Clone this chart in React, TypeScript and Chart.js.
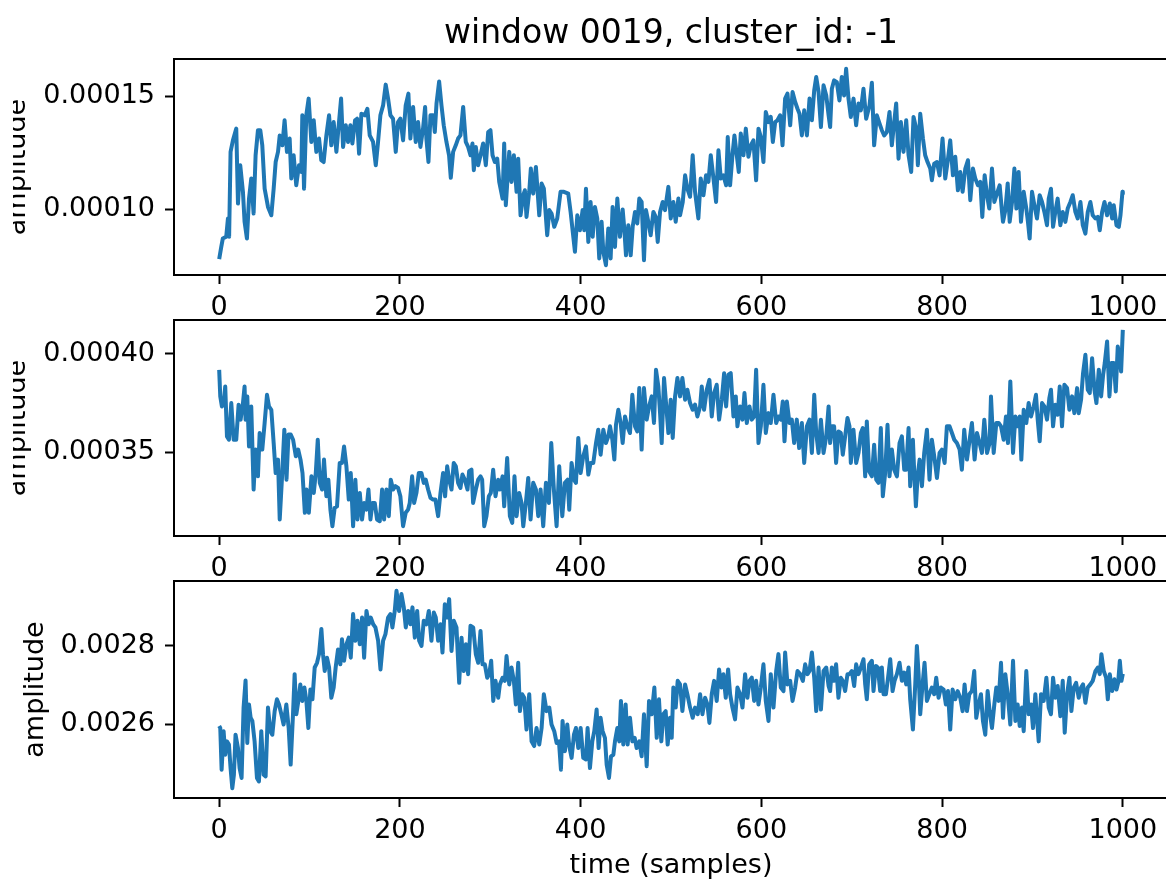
import { useEffect, useRef } from "react";
import { Chart, registerables } from "chart.js";

Chart.register(...registerables);

const TITLE = "window 0019, cluster_id: -1";
const X_LABEL = "time (samples)";
const Y_LABEL = "amplitude";

const xTicks = [0, 200, 400, 600, 800, 1000];
const xTickLabels = ["0", "200", "400", "600", "800", "1000"];

const topYTicks = [0.0001, 0.00015];
const topYTickLabels = ["0.00010", "0.00015"];
const midYTicks = [0.00035, 0.0004];
const midYTickLabels = ["0.00035", "0.00040"];
const botYTicks = [0.0026, 0.0028];
const botYTickLabels = ["0.0026", "0.0028"];

// [sample, amplitude]
const topSeries: [number, number][] = [
  [0, 7.79e-5], [2.3, 8.33e-5], [4, 8.7e-5], [7.8, 8.78e-5], [9.7, 9.59e-5], [11, 8.78e-5], [12.6, 12.54e-5], [15.2, 13.05e-5], [18.9, 13.57e-5], [20.8, 10.25e-5],
  [23.3, 11.95e-5], [26.3, 10.77e-5], [28.1, 9.44e-5], [30.7, 8.7e-5], [33, 10.47e-5], [35.5, 11.36e-5], [38.1, 9.81e-5], [40.3, 12.39e-5], [42.9, 13.5e-5], [45.5, 13.5e-5],
  [47.7, 12.83e-5], [50.3, 10.91e-5], [54, 10.1e-5], [57.7, 9.73e-5], [60.3, 10.91e-5], [62.5, 12.09e-5], [65.1, 12.54e-5], [67, 13.27e-5], [69.9, 12.83e-5], [72.4, 13.94e-5],
  [75, 12.54e-5], [78, 13.13e-5], [79.8, 11.36e-5], [82.4, 12.39e-5], [85.3, 11.06e-5], [88.3, 11.95e-5], [90.9, 11.65e-5], [92, 14.16e-5], [93.9, 10.91e-5], [96.4, 14.16e-5],
  [99, 14.9e-5], [102, 12.98e-5], [104.6, 13.94e-5], [107.5, 12.54e-5], [110.5, 13.13e-5], [113, 12.17e-5], [115.6, 12.09e-5], [118.6, 13.27e-5], [121.6, 14.16e-5], [124.1, 12.83e-5],
  [126.7, 13.86e-5], [129.7, 12.54e-5], [132.6, 13.86e-5], [134.9, 14.9e-5], [137.1, 12.76e-5], [140.1, 13.72e-5], [142.6, 12.98e-5], [145.2, 13.72e-5], [147.4, 12.91e-5], [150.4, 13.94e-5],
  [152.6, 14.01e-5], [154.8, 12.46e-5], [157.4, 14.23e-5], [161.1, 14.16e-5], [164, 14.45e-5], [166.6, 13.27e-5], [170.3, 12.98e-5], [173.3, 11.95e-5], [175.8, 12.98e-5], [178.4, 14.16e-5],
  [181.4, 14.6e-5], [184.3, 15.52e-5], [186.9, 14.9e-5], [189.5, 14.16e-5], [192.4, 14.01e-5], [195.4, 12.54e-5], [197.9, 13.86e-5], [200.5, 14.01e-5], [203.5, 13.05e-5], [206.4, 14.6e-5],
  [209.4, 15.12e-5], [211.6, 13.13e-5], [214.6, 14.53e-5], [217.5, 12.98e-5], [220.1, 13.86e-5], [222.7, 12.76e-5], [225.6, 13.57e-5], [227.9, 14.53e-5], [229.3, 13.13e-5], [231.6, 12.09e-5],
  [233.8, 14.16e-5], [236.8, 14.16e-5], [238.6, 13.42e-5], [240.5, 14.68e-5], [243.4, 15.66e-5], [246, 14.6e-5], [248.5, 13.72e-5], [251.5, 12.98e-5], [254.4, 12.39e-5], [256.3, 11.39e-5],
  [258.9, 12.54e-5], [261.8, 12.83e-5], [264.4, 13.13e-5], [267, 13.27e-5], [270, 14.53e-5], [272.9, 12.98e-5], [275.5, 12.76e-5], [278.1, 12.39e-5], [280.3, 12.91e-5], [281.8, 11.73e-5],
  [284, 12.76e-5], [286.6, 11.95e-5], [289.2, 12.39e-5], [292.1, 12.91e-5], [295.1, 11.95e-5], [297.7, 13.42e-5], [300.2, 13.5e-5], [302.5, 12.39e-5], [305.1, 12.09e-5], [307.7, 12.24e-5],
  [309.9, 11.21e-5], [313.6, 10.47e-5], [315.4, 12.91e-5], [317.2, 10.18e-5], [321, 12.54e-5], [323.5, 11.21e-5], [326.1, 12.39e-5], [329.1, 10.77e-5], [330.9, 12.24e-5], [333.5, 9.73e-5],
  [336.5, 10.62e-5], [338.3, 10.84e-5], [340.1, 9.66e-5], [343.1, 10.77e-5], [344.9, 11.8e-5], [347.5, 10.69e-5], [350.5, 11.87e-5], [354.2, 9.73e-5], [356.8, 11.14e-5], [359.3, 10.91e-5],
  [363, 8.85e-5], [365.3, 9.96e-5], [367.8, 9.81e-5], [370.8, 9.22e-5], [374.1, 9.59e-5], [377.8, 10.77e-5], [381.5, 10.77e-5], [386.3, 10.69e-5], [388.9, 9.88e-5], [391.1, 9.07e-5],
  [393.7, 8.11e-5], [396.3, 9.73e-5], [399.2, 9.07e-5], [402.2, 9.96e-5], [404, 9.07e-5], [405.9, 10.91e-5], [408.5, 8.55e-5], [411, 10.32e-5], [413.3, 8.78e-5], [415.8, 10.1e-5],
  [418.4, 9.59e-5], [420.6, 7.82e-5], [423.2, 9.44e-5], [425.1, 8.11e-5], [428, 7.52e-5], [430.6, 9.14e-5], [433.2, 7.82e-5], [435.4, 10.1e-5], [438, 8.33e-5], [440.6, 10.47e-5],
  [443.5, 8.78e-5], [446.5, 9.99e-5], [448.3, 9.14e-5], [450.2, 7.96e-5], [452.8, 9.29e-5], [455.4, 7.96e-5], [457.6, 9.22e-5], [460.2, 9.88e-5], [462.7, 9.37e-5], [464.9, 10.47e-5],
  [467.5, 10.32e-5], [470.1, 7.74e-5], [472.3, 9.96e-5], [474.9, 9.44e-5], [477.5, 8.85e-5], [480.5, 9.88e-5], [483.1, 9.66e-5], [485.3, 8.55e-5], [487.9, 9.88e-5], [490.8, 10.32e-5],
  [493.4, 9.96e-5], [497.1, 10.99e-5], [499.7, 9.59e-5], [502.6, 10.32e-5], [505.2, 9.44e-5], [508.2, 10.47e-5], [510, 9.73e-5], [513, 10.32e-5], [515.6, 11.5e-5], [518.1, 10.91e-5],
  [521.1, 10.55e-5], [524, 12.39e-5], [526.6, 10.77e-5], [530.3, 9.59e-5], [532.9, 11.36e-5], [535.9, 10.62e-5], [538.8, 11.5e-5], [541.4, 11.21e-5], [544, 12.39e-5], [547, 11.36e-5],
  [549.9, 10.32e-5], [552.5, 12.61e-5], [555.1, 11.36e-5], [558, 11.5e-5], [561, 11.06e-5], [562.8, 13.2e-5], [565.4, 11.06e-5], [568, 12.39e-5], [570.2, 13.27e-5], [572.8, 12.39e-5],
  [575, 11.65e-5], [577.2, 13.35e-5], [580.2, 12.39e-5], [582.8, 13.57e-5], [585.7, 12.32e-5], [588.3, 12.83e-5], [591.2, 13.05e-5], [594.2, 11.28e-5], [596.8, 13.57e-5], [599.4, 13.2e-5],
  [602.3, 12.09e-5], [604.9, 14.31e-5], [607.9, 13.86e-5], [610.4, 14.09e-5], [612.7, 12.98e-5], [615.3, 13.86e-5], [617.8, 13.94e-5], [620.8, 14.16e-5], [623.4, 12.83e-5], [626.3, 14.9e-5],
  [628.9, 15.12e-5], [631.9, 13.72e-5], [634.5, 15.19e-5], [637.4, 14.75e-5], [640, 14.45e-5], [642.2, 14.23e-5], [644.8, 13.27e-5], [647.4, 14.38e-5], [650.4, 13.27e-5], [653.3, 14.9e-5],
  [655.9, 13.94e-5], [658.5, 15.27e-5], [660.7, 15.86e-5], [663.3, 15.19e-5], [665.9, 13.64e-5], [668.8, 15.49e-5], [671.8, 15.04e-5], [674.4, 14.16e-5], [676.1, 13.64e-5], [678, 15.34e-5],
  [680.5, 15.71e-5], [683.5, 15.63e-5], [686.4, 14.82e-5], [689, 15.86e-5], [691.6, 15.04e-5], [693.8, 16.22e-5], [696.4, 14.9e-5], [699, 14.09e-5], [702, 14.9e-5], [704.9, 13.72e-5],
  [707.5, 14.68e-5], [710.1, 14.38e-5], [713, 15.34e-5], [716, 14.01e-5], [719.7, 14.6e-5], [722.3, 15.6e-5], [724.8, 12.83e-5], [727.8, 14.16e-5], [730.8, 13.79e-5], [733.3, 13.5e-5],
  [735.9, 13.27e-5], [738.9, 13.42e-5], [741.8, 14.31e-5], [744.4, 12.83e-5], [747, 13.86e-5], [749.2, 14.68e-5], [751.8, 12.24e-5], [754.4, 13.86e-5], [757.3, 12.54e-5], [760.3, 13.94e-5],
  [762.9, 12.39e-5], [765.8, 11.65e-5], [768.4, 14.09e-5], [771.4, 13.57e-5], [773.2, 11.95e-5], [775.8, 14.23e-5], [778.8, 13.13e-5], [781.3, 12.39e-5], [783.9, 12.09e-5], [786.9, 11.8e-5],
  [788.7, 11.28e-5], [791.3, 12.02e-5], [794.3, 12.09e-5], [797.2, 11.5e-5], [800.5, 13.13e-5], [803.5, 11.36e-5], [806.1, 12.09e-5], [809, 13.05e-5], [812, 11.5e-5], [814.6, 12.32e-5],
  [817.5, 10.84e-5], [820.1, 11.65e-5], [822.7, 10.77e-5], [825.7, 11.8e-5], [828.6, 12.17e-5], [831.2, 10.4e-5], [834.1, 11.8e-5], [836.7, 11.36e-5], [839.7, 11.06e-5], [842.3, 11.21e-5],
  [844.5, 9.66e-5], [847.1, 11.5e-5], [849.7, 10.62e-5], [852.2, 10.03e-5], [855.2, 11.8e-5], [857.8, 10.32e-5], [860.7, 10.69e-5], [863.7, 11.06e-5], [866.3, 9.88e-5], [867.4, 9.44e-5],
  [870, 9.96e-5], [872.6, 11.14e-5], [874.8, 9.44e-5], [877.4, 10.32e-5], [880, 11.8e-5], [882.2, 10.03e-5], [884.7, 11.65e-5], [887.3, 9.44e-5], [890.3, 10.77e-5], [893.2, 10.03e-5],
  [895, 9.44e-5], [896.9, 8.7e-5], [899.5, 10.77e-5], [902.1, 10.18e-5], [905, 9.59e-5], [908, 10.62e-5], [910.6, 10.32e-5], [913.2, 9.88e-5], [916.1, 9.29e-5], [918, 10.47e-5],
  [920.5, 10.91e-5], [922.8, 9.22e-5], [925.3, 9.88e-5], [927.9, 10.47e-5], [930.9, 9.29e-5], [933.5, 9.88e-5], [936.4, 9.44e-5], [939, 10.03e-5], [942, 10.32e-5], [944.6, 10.62e-5],
  [947.5, 9.88e-5], [950.1, 9.59e-5], [953.1, 10.32e-5], [955.7, 9.29e-5], [958.6, 8.92e-5], [961.2, 9.88e-5], [964.1, 10.32e-5], [966.7, 9.73e-5], [969.7, 9.59e-5], [972.3, 9.66e-5],
  [974.5, 9.07e-5], [977.1, 9.88e-5], [979.7, 10.32e-5], [982.6, 9.73e-5], [985.6, 10.25e-5], [988.2, 9.59e-5], [990, 10.18e-5], [993, 9.29e-5], [995.6, 9.22e-5], [997.4, 9.73e-5],
  [999.6, 10.77e-5], [1000, 10.69e-5],
];

const midSeries: [number, number][] = [
  [0, 3.919e-4], [1.2, 3.784e-4], [3, 3.733e-4], [4.9, 3.742e-4], [6.7, 3.834e-4], [8.6, 3.581e-4], [10.8, 3.564e-4], [13.4, 3.75e-4], [16, 3.564e-4], [18.9, 3.564e-4],
  [21.5, 3.742e-4], [23.7, 3.666e-4], [26.3, 3.75e-4], [28.1, 3.834e-4], [29.2, 3.666e-4], [31.1, 3.784e-4], [33, 3.53e-4], [35.5, 3.733e-4], [38.1, 3.311e-4], [40.3, 3.514e-4],
  [42.9, 3.378e-4], [44.8, 3.598e-4], [47.7, 3.514e-4], [50.3, 3.649e-4], [52.9, 3.792e-4], [55.1, 3.733e-4], [57.7, 3.716e-4], [60.3, 3.547e-4], [62.5, 3.395e-4], [65.1, 3.463e-4],
  [67, 3.159e-4], [69.6, 3.378e-4], [72.1, 3.615e-4], [74.5, 3.361e-4], [76.7, 3.59e-4], [79.2, 3.59e-4], [81.8, 3.564e-4], [84.8, 3.48e-4], [87.4, 3.514e-4], [90, 3.463e-4],
  [92.2, 3.395e-4], [94.8, 3.193e-4], [96.6, 3.311e-4], [99.2, 3.193e-4], [102.1, 3.378e-4], [104.7, 3.294e-4], [106.9, 3.395e-4], [109.1, 3.564e-4], [111.3, 3.345e-4], [113.9, 3.311e-4],
  [116, 3.463e-4], [118.6, 3.277e-4], [120.8, 3.361e-4], [123.1, 3.209e-4], [125.3, 3.125e-4], [127.8, 3.218e-4], [130.4, 3.226e-4], [133.4, 3.446e-4], [135.9, 3.446e-4], [138.2, 3.53e-4],
  [140.8, 3.429e-4], [143.4, 3.26e-4], [145.6, 3.395e-4], [148.2, 3.125e-4], [150.7, 3.361e-4], [153, 3.159e-4], [155.6, 3.294e-4], [158.1, 3.159e-4], [160.4, 3.243e-4], [163, 3.209e-4],
  [165.2, 3.311e-4], [167.4, 3.159e-4], [169.6, 3.243e-4], [172.2, 3.243e-4], [174.7, 3.159e-4], [177.7, 3.15e-4], [180.3, 3.311e-4], [182.5, 3.159e-4], [185.1, 3.311e-4], [187.7, 3.176e-4],
  [189.9, 3.361e-4], [192.4, 3.311e-4], [195, 3.328e-4], [198, 3.319e-4], [200.5, 3.277e-4], [203.5, 3.125e-4], [206.4, 3.193e-4], [209, 3.209e-4], [210.9, 3.243e-4], [213.5, 3.378e-4],
  [215.7, 3.243e-4], [218.3, 3.294e-4], [220.9, 3.395e-4], [223.8, 3.395e-4], [226.4, 3.345e-4], [228.6, 3.361e-4], [231.2, 3.311e-4], [233.8, 3.269e-4], [236.7, 3.26e-4], [239.3, 3.26e-4],
  [242.3, 3.176e-4], [244.9, 3.294e-4], [247.8, 3.395e-4], [250, 3.277e-4], [252.3, 3.429e-4], [254.5, 3.361e-4], [257.1, 3.311e-4], [259.6, 3.446e-4], [261.9, 3.429e-4], [264.4, 3.345e-4],
  [267, 3.319e-4], [269.2, 3.387e-4], [271.8, 3.361e-4], [274.8, 3.311e-4], [276.6, 3.404e-4], [279.2, 3.412e-4], [281, 3.243e-4], [284, 3.311e-4], [286.6, 3.361e-4], [289.2, 3.378e-4],
  [291, 3.361e-4], [293.3, 3.125e-4], [295.8, 3.176e-4], [298.4, 3.277e-4], [300.6, 3.294e-4], [303.2, 3.412e-4], [305.8, 3.277e-4], [308.7, 3.361e-4], [310.6, 3.311e-4], [313.6, 3.378e-4],
  [315.4, 3.226e-4], [318.7, 3.471e-4], [321.7, 3.176e-4], [324.3, 3.142e-4], [326.8, 3.378e-4], [329.1, 3.176e-4], [332, 3.294e-4], [334.6, 3.243e-4], [336.5, 3.125e-4], [339.4, 3.243e-4],
  [342, 3.37e-4], [344.6, 3.159e-4], [347.5, 3.345e-4], [350.5, 3.311e-4], [353.1, 3.176e-4], [355.7, 3.311e-4], [358.6, 3.125e-4], [361.6, 3.345e-4], [364.9, 3.243e-4], [367.5, 3.547e-4],
  [370.4, 3.311e-4], [373.4, 3.125e-4], [376.3, 3.429e-4], [379.7, 3.176e-4], [382.6, 3.345e-4], [385.6, 3.361e-4], [387.4, 3.209e-4], [390, 3.446e-4], [392.6, 3.361e-4], [394.8, 3.345e-4],
  [397.4, 3.573e-4], [400, 3.395e-4], [402.9, 3.48e-4], [405.9, 3.53e-4], [408.5, 3.387e-4], [411, 3.446e-4], [414, 3.446e-4], [417, 3.547e-4], [419.5, 3.615e-4], [422.1, 3.488e-4],
  [425.1, 3.615e-4], [428, 3.547e-4], [430.6, 3.581e-4], [432.5, 3.632e-4], [435.1, 3.564e-4], [437.3, 3.463e-4], [439.1, 3.64e-4], [441.7, 3.716e-4], [444.3, 3.649e-4], [446.5, 3.547e-4],
  [449.1, 3.682e-4], [451.7, 3.632e-4], [454.6, 3.598e-4], [457.2, 3.792e-4], [460.2, 3.632e-4], [462.7, 3.606e-4], [464.9, 3.826e-4], [467.5, 3.514e-4], [470.1, 3.826e-4], [473.1, 3.666e-4],
  [475.7, 3.733e-4], [478.6, 3.784e-4], [481.2, 3.649e-4], [483.4, 3.919e-4], [486, 3.834e-4], [487.9, 3.699e-4], [489.7, 3.547e-4], [492.3, 3.877e-4], [494.5, 3.75e-4], [497.1, 3.598e-4],
  [499.7, 3.767e-4], [501.9, 3.573e-4], [504.5, 3.784e-4], [507.1, 3.877e-4], [510, 3.784e-4], [512.6, 3.877e-4], [515.6, 3.767e-4], [518.1, 3.818e-4], [521.1, 3.75e-4], [524, 3.716e-4],
  [526.6, 3.742e-4], [529.2, 3.682e-4], [532.2, 3.733e-4], [534, 3.834e-4], [536.6, 3.716e-4], [539.6, 3.818e-4], [542.5, 3.868e-4], [545.1, 3.682e-4], [547.7, 3.801e-4], [550.6, 3.843e-4],
  [553.2, 3.666e-4], [556.2, 3.767e-4], [558.8, 3.902e-4], [561, 3.733e-4], [563.6, 3.894e-4], [566.1, 3.902e-4], [569.1, 3.682e-4], [571.7, 3.784e-4], [573.5, 3.632e-4], [576.5, 3.733e-4],
  [579.1, 3.666e-4], [581.3, 3.801e-4], [583.9, 3.649e-4], [586.8, 3.733e-4], [589.4, 3.666e-4], [592, 3.682e-4], [594.2, 3.919e-4], [596.8, 3.547e-4], [599.4, 3.632e-4], [602.3, 3.843e-4],
  [604.9, 3.598e-4], [607.9, 3.699e-4], [610.4, 3.649e-4], [613.4, 3.792e-4], [616.4, 3.649e-4], [618.9, 3.682e-4], [621.5, 3.666e-4], [623.7, 3.758e-4], [625.6, 3.556e-4], [628.2, 3.758e-4],
  [631.1, 3.649e-4], [633.7, 3.666e-4], [636.3, 3.547e-4], [639.2, 3.666e-4], [641.8, 3.522e-4], [644.8, 3.649e-4], [647.4, 3.446e-4], [650.4, 3.632e-4], [653.3, 3.666e-4], [655.9, 3.497e-4],
  [658.5, 3.792e-4], [660.7, 3.598e-4], [663.3, 3.497e-4], [665.9, 3.666e-4], [668.8, 3.497e-4], [671.8, 3.581e-4], [674.4, 3.733e-4], [676.1, 3.547e-4], [678, 3.632e-4], [680.5, 3.632e-4],
  [682.7, 3.446e-4], [685.3, 3.606e-4], [687.9, 3.598e-4], [690.1, 3.488e-4], [692.7, 3.581e-4], [695.3, 3.674e-4], [697.5, 3.632e-4], [699, 3.446e-4], [701.9, 3.615e-4], [704.9, 3.446e-4],
  [707.5, 3.497e-4], [710.1, 3.598e-4], [712.3, 3.623e-4], [714.9, 3.378e-4], [716.7, 3.657e-4], [719.3, 3.404e-4], [722.3, 3.378e-4], [724.8, 3.539e-4], [727.1, 3.361e-4], [729.6, 3.345e-4],
  [732.2, 3.623e-4], [734.4, 3.277e-4], [737, 3.395e-4], [739.6, 3.64e-4], [741.8, 3.378e-4], [744.4, 3.514e-4], [747, 3.412e-4], [750, 3.378e-4], [752.9, 3.547e-4], [755.5, 3.581e-4],
  [758.1, 3.412e-4], [760.3, 3.412e-4], [762.9, 3.623e-4], [764.7, 3.328e-4], [767.7, 3.564e-4], [769.2, 3.395e-4], [771, 3.226e-4], [772.9, 3.378e-4], [775.1, 3.463e-4], [777.7, 3.328e-4],
  [780.2, 3.497e-4], [783.2, 3.615e-4], [786.1, 3.361e-4], [788.7, 3.564e-4], [791.3, 3.48e-4], [794.3, 3.37e-4], [797.2, 3.497e-4], [799.8, 3.514e-4], [802.8, 3.446e-4], [805.3, 3.632e-4],
  [808.3, 3.632e-4], [810.9, 3.598e-4], [813.5, 3.564e-4], [816.4, 3.547e-4], [819.4, 3.514e-4], [821.9, 3.412e-4], [824.5, 3.615e-4], [827.5, 3.463e-4], [830.5, 3.564e-4], [833, 3.649e-4],
  [836, 3.463e-4], [838.6, 3.598e-4], [841.5, 3.547e-4], [844.1, 3.497e-4], [846.7, 3.666e-4], [849.7, 3.497e-4], [852.6, 3.547e-4], [854.1, 3.784e-4], [857.1, 3.497e-4], [860, 3.649e-4],
  [862.6, 3.649e-4], [865.2, 3.632e-4], [868.1, 3.564e-4], [870.7, 3.682e-4], [872.9, 3.547e-4], [875.5, 3.86e-4], [878.5, 3.497e-4], [881.1, 3.682e-4], [883.6, 3.632e-4], [885.9, 3.682e-4],
  [887.7, 3.463e-4], [890.3, 3.716e-4], [893.2, 3.649e-4], [895.8, 3.75e-4], [898.4, 3.682e-4], [901.4, 3.733e-4], [903.9, 3.792e-4], [905.8, 3.666e-4], [908, 3.556e-4], [910.6, 3.75e-4],
  [913.2, 3.733e-4], [916.1, 3.666e-4], [918.7, 3.775e-4], [920.5, 3.818e-4], [922.8, 3.632e-4], [925.3, 3.742e-4], [927.9, 3.691e-4], [930.2, 3.834e-4], [932.7, 3.632e-4], [935.3, 3.843e-4],
  [938.3, 3.826e-4], [940.9, 3.716e-4], [943.8, 3.784e-4], [946.4, 3.699e-4], [949.4, 3.826e-4], [951.2, 3.699e-4], [953.8, 3.767e-4], [956, 3.902e-4], [958.6, 3.995e-4], [961.2, 3.818e-4],
  [963.4, 3.801e-4], [966, 3.978e-4], [968.6, 3.818e-4], [970.8, 3.75e-4], [973.4, 3.919e-4], [976, 3.784e-4], [978.2, 3.894e-4], [980, 3.953e-4], [982.6, 4.063e-4], [985.2, 3.784e-4],
  [987.4, 3.953e-4], [990, 3.953e-4], [992.2, 3.809e-4], [994.4, 4.037e-4], [996.3, 3.986e-4], [998.1, 3.91e-4], [1000, 4.122e-4],
];

const botSeries: [number, number][] = [
  [0, 2.596e-3], [1.2, 2.591e-3], [2.7, 2.485e-3], [4.9, 2.583e-3], [6.7, 2.523e-3], [8.6, 2.557e-3], [10.8, 2.549e-3], [12.6, 2.489e-3], [14.5, 2.438e-3], [16.3, 2.472e-3],
  [18.1, 2.574e-3], [20.8, 2.54e-3], [22.6, 2.489e-3], [24.8, 2.464e-3], [27, 2.643e-3], [29.2, 2.712e-3], [31.1, 2.553e-3], [33, 2.651e-3], [34.8, 2.617e-3], [36.7, 2.609e-3],
  [39.2, 2.557e-3], [41.8, 2.464e-3], [44, 2.455e-3], [46.6, 2.583e-3], [49.2, 2.472e-3], [51.4, 2.468e-3], [54, 2.643e-3], [56.6, 2.583e-3], [58.8, 2.574e-3], [61.4, 2.634e-3],
  [63.9, 2.664e-3], [66.2, 2.651e-3], [68.8, 2.626e-3], [71.3, 2.6e-3], [74.3, 2.651e-3], [76.9, 2.591e-3], [79.1, 2.498e-3], [81.7, 2.626e-3], [83.5, 2.728e-3], [85.4, 2.626e-3],
  [87.6, 2.66e-3], [89.8, 2.702e-3], [92, 2.66e-3], [94.3, 2.694e-3], [96.5, 2.66e-3], [98.7, 2.591e-3], [100.9, 2.689e-3], [103.2, 2.664e-3], [105.7, 2.745e-3], [108.3, 2.757e-3],
  [110.5, 2.779e-3], [113.1, 2.843e-3], [114.9, 2.779e-3], [116.8, 2.736e-3], [119.3, 2.77e-3], [121.6, 2.745e-3], [124.1, 2.668e-3], [126.7, 2.694e-3], [128.9, 2.745e-3], [131.5, 2.791e-3],
  [134.1, 2.753e-3], [135.9, 2.817e-3], [138.2, 2.762e-3], [140.8, 2.804e-3], [143.4, 2.821e-3], [145.6, 2.77e-3], [148.2, 2.881e-3], [150.7, 2.813e-3], [153, 2.864e-3], [155.6, 2.804e-3],
  [158.1, 2.872e-3], [160.4, 2.77e-3], [163, 2.889e-3], [165.5, 2.855e-3], [167.8, 2.872e-3], [170.4, 2.855e-3], [172.9, 2.847e-3], [175.9, 2.813e-3], [178.5, 2.74e-3], [181.4, 2.813e-3],
  [184, 2.83e-3], [186.9, 2.872e-3], [189.5, 2.881e-3], [191.7, 2.847e-3], [194.3, 2.889e-3], [196.2, 2.94e-3], [199.1, 2.889e-3], [201.7, 2.932e-3], [204.3, 2.898e-3], [206.5, 2.847e-3],
  [209.1, 2.889e-3], [211.6, 2.855e-3], [213.9, 2.898e-3], [216.5, 2.821e-3], [219.1, 2.889e-3], [221.3, 2.813e-3], [223.9, 2.8e-3], [226.4, 2.864e-3], [229.4, 2.855e-3], [232, 2.889e-3],
  [234.9, 2.813e-3], [237.5, 2.885e-3], [239.7, 2.872e-3], [242.3, 2.813e-3], [244.9, 2.855e-3], [247.1, 2.783e-3], [249.7, 2.906e-3], [252.3, 2.872e-3], [254.5, 2.919e-3], [257.1, 2.787e-3],
  [259.6, 2.864e-3], [262.6, 2.847e-3], [265.6, 2.706e-3], [268.2, 2.821e-3], [270.7, 2.736e-3], [273, 2.804e-3], [275.5, 2.728e-3], [278.1, 2.851e-3], [281.1, 2.847e-3], [284, 2.779e-3],
  [286.6, 2.757e-3], [289.2, 2.838e-3], [291.4, 2.753e-3], [294, 2.753e-3], [296.6, 2.719e-3], [298.8, 2.728e-3], [301, 2.762e-3], [303.3, 2.66e-3], [305.8, 2.711e-3], [308.8, 2.668e-3],
  [310.6, 2.702e-3], [313.6, 2.719e-3], [316.1, 2.711e-3], [318, 2.774e-3], [321, 2.702e-3], [323.5, 2.745e-3], [326.1, 2.711e-3], [328.3, 2.651e-3], [330.9, 2.757e-3], [332.8, 2.634e-3],
  [335.3, 2.677e-3], [337.6, 2.668e-3], [340.1, 2.587e-3], [343.1, 2.677e-3], [345.7, 2.557e-3], [348.6, 2.545e-3], [351.2, 2.591e-3], [354.2, 2.549e-3], [356.8, 2.591e-3], [359.3, 2.677e-3],
  [362.3, 2.634e-3], [365.3, 2.643e-3], [367.8, 2.6e-3], [370.8, 2.583e-3], [373.4, 2.553e-3], [376, 2.557e-3], [378.2, 2.485e-3], [380, 2.609e-3], [382.6, 2.532e-3], [385.2, 2.6e-3],
  [387.4, 2.545e-3], [390, 2.515e-3], [392.6, 2.574e-3], [394.8, 2.591e-3], [397.4, 2.54e-3], [400, 2.591e-3], [402.9, 2.515e-3], [405.9, 2.511e-3], [407.7, 2.591e-3], [410.3, 2.489e-3],
  [412.9, 2.557e-3], [415.1, 2.583e-3], [417.7, 2.638e-3], [419.9, 2.54e-3], [422.1, 2.617e-3], [424.3, 2.583e-3], [426.9, 2.566e-3], [428.8, 2.498e-3], [431.4, 2.464e-3], [433.6, 2.519e-3],
  [436.2, 2.523e-3], [438, 2.557e-3], [440.6, 2.591e-3], [442.8, 2.557e-3], [444.6, 2.66e-3], [447.2, 2.549e-3], [449.8, 2.651e-3], [452, 2.549e-3], [454.6, 2.617e-3], [457.2, 2.557e-3],
  [459.8, 2.566e-3], [462, 2.54e-3], [465, 2.557e-3], [467.5, 2.519e-3], [470.1, 2.626e-3], [473.1, 2.494e-3], [475.7, 2.66e-3], [478.6, 2.626e-3], [481.6, 2.694e-3], [484.2, 2.566e-3],
  [486.7, 2.664e-3], [489.3, 2.557e-3], [491.5, 2.626e-3], [494.1, 2.634e-3], [496.3, 2.549e-3], [498.9, 2.617e-3], [500.8, 2.566e-3], [502.6, 2.694e-3], [505.2, 2.643e-3], [507.4, 2.711e-3],
  [510, 2.702e-3], [512.6, 2.634e-3], [515.6, 2.702e-3], [518.1, 2.677e-3], [521.1, 2.643e-3], [524, 2.617e-3], [526.6, 2.643e-3], [529.6, 2.626e-3], [532.2, 2.677e-3], [534.8, 2.626e-3],
  [537.7, 2.668e-3], [540.3, 2.651e-3], [542.5, 2.604e-3], [545.1, 2.677e-3], [547.7, 2.711e-3], [550.6, 2.66e-3], [553.2, 2.74e-3], [555.8, 2.694e-3], [558, 2.728e-3], [560.6, 2.668e-3],
  [563.2, 2.74e-3], [565.4, 2.677e-3], [568, 2.643e-3], [570.9, 2.613e-3], [573.5, 2.694e-3], [576.5, 2.677e-3], [579.1, 2.643e-3], [582, 2.728e-3], [584.6, 2.668e-3], [586.8, 2.711e-3],
  [589.4, 2.719e-3], [592, 2.66e-3], [594.2, 2.711e-3], [596.8, 2.651e-3], [599.4, 2.694e-3], [602.3, 2.753e-3], [604.9, 2.66e-3], [607.9, 2.609e-3], [610.4, 2.728e-3], [613.4, 2.643e-3],
  [616.4, 2.736e-3], [618.9, 2.779e-3], [621.5, 2.694e-3], [624.5, 2.685e-3], [626.3, 2.783e-3], [628.9, 2.702e-3], [631.9, 2.711e-3], [634.5, 2.66e-3], [637.4, 2.694e-3], [640, 2.736e-3],
  [643, 2.728e-3], [645.9, 2.711e-3], [648.5, 2.753e-3], [651.1, 2.728e-3], [653.3, 2.736e-3], [655.9, 2.783e-3], [658.5, 2.719e-3], [660.7, 2.634e-3], [663.3, 2.745e-3], [665.9, 2.638e-3],
  [668.8, 2.736e-3], [671.8, 2.745e-3], [674.4, 2.698e-3], [676.1, 2.685e-3], [678, 2.745e-3], [680.5, 2.711e-3], [682.7, 2.753e-3], [685.3, 2.668e-3], [687.9, 2.719e-3], [690.1, 2.711e-3],
  [692.7, 2.685e-3], [695.3, 2.728e-3], [697.5, 2.728e-3], [700.1, 2.736e-3], [702.7, 2.698e-3], [704.9, 2.753e-3], [707.5, 2.728e-3], [710.1, 2.745e-3], [713, 2.766e-3], [714.9, 2.702e-3],
  [716.7, 2.664e-3], [719.3, 2.753e-3], [722.3, 2.762e-3], [724.1, 2.685e-3], [726.7, 2.749e-3], [728.9, 2.745e-3], [731.5, 2.685e-3], [733.3, 2.745e-3], [735.2, 2.677e-3], [737.8, 2.677e-3],
  [740, 2.715e-3], [742.6, 2.766e-3], [745.2, 2.685e-3], [747.4, 2.711e-3], [750, 2.728e-3], [752.9, 2.757e-3], [755.5, 2.711e-3], [758.1, 2.732e-3], [760.3, 2.702e-3], [762.9, 2.745e-3],
  [764.7, 2.664e-3], [767.7, 2.587e-3], [770.3, 2.702e-3], [772.1, 2.8e-3], [774, 2.728e-3], [775.8, 2.626e-3], [778.4, 2.702e-3], [780.6, 2.757e-3], [783.2, 2.66e-3], [785.8, 2.677e-3],
  [788.7, 2.694e-3], [791.3, 2.677e-3], [793.5, 2.719e-3], [796.1, 2.668e-3], [798.7, 2.694e-3], [801.7, 2.689e-3], [804.2, 2.651e-3], [806.5, 2.685e-3], [809, 2.587e-3], [811.6, 2.689e-3],
  [814.6, 2.664e-3], [817.2, 2.685e-3], [820.1, 2.668e-3], [822.7, 2.634e-3], [824.9, 2.702e-3], [827.5, 2.634e-3], [830.1, 2.677e-3], [833, 2.685e-3], [835.6, 2.736e-3], [837.8, 2.617e-3],
  [840.4, 2.651e-3], [843, 2.677e-3], [845.2, 2.609e-3], [847.8, 2.574e-3], [850.4, 2.685e-3], [852.6, 2.634e-3], [855.2, 2.591e-3], [857.8, 2.651e-3], [860, 2.694e-3], [862.6, 2.66e-3],
  [865.2, 2.757e-3], [867.4, 2.617e-3], [870, 2.728e-3], [872.6, 2.677e-3], [875.5, 2.6e-3], [878.5, 2.762e-3], [881.1, 2.609e-3], [883.6, 2.651e-3], [885.9, 2.596e-3], [888.4, 2.643e-3],
  [890.3, 2.583e-3], [893.2, 2.736e-3], [895.8, 2.626e-3], [898.4, 2.651e-3], [900.6, 2.591e-3], [903.2, 2.677e-3], [905, 2.617e-3], [906.9, 2.557e-3], [909.5, 2.677e-3], [912.4, 2.66e-3],
  [915.4, 2.719e-3], [918, 2.643e-3], [920.5, 2.626e-3], [922.8, 2.719e-3], [925.3, 2.668e-3], [927.9, 2.698e-3], [930.9, 2.621e-3], [933.5, 2.711e-3], [935.7, 2.579e-3], [938.3, 2.677e-3],
  [940.9, 2.719e-3], [943.1, 2.634e-3], [945.7, 2.694e-3], [948.3, 2.706e-3], [951.2, 2.668e-3], [953.8, 2.694e-3], [956, 2.702e-3], [958.6, 2.655e-3], [961.2, 2.694e-3], [964.1, 2.702e-3],
  [966.7, 2.711e-3], [969.7, 2.736e-3], [972.3, 2.745e-3], [974.5, 2.728e-3], [976.3, 2.779e-3], [978.9, 2.736e-3], [981.5, 2.719e-3], [983.4, 2.664e-3], [985.6, 2.728e-3], [988.2, 2.685e-3],
  [990.7, 2.715e-3], [993, 2.689e-3], [994.8, 2.706e-3], [996.7, 2.762e-3], [998.5, 2.711e-3], [1000, 2.729e-3],
];

const LINE_COLOR = "#1f77b4";
const FONT = "'DejaVu Sans', 'Liberation Sans', sans-serif";
const CANVAS_W = 1168;
const Y_AXIS_W = 174;

type Panel = {
  series: [number, number][];
  yTicks: number[];
  yTickLabels: string[];
  top: number;
  height: number;
  padTop: number;
  xAxisH: number;
  yLabelX: number;
  title: boolean;
  xLabel: boolean;
};

const panels: Panel[] = [
  { series: topSeries, yTicks: topYTicks, yTickLabels: topYTickLabels, top: 0, height: 320, padTop: 59, xAxisH: 45, yLabelX: 25.3, title: true, xLabel: false },
  { series: midSeries, yTicks: midYTicks, yTickLabels: midYTickLabels, top: 280, height: 300, padTop: 40, xAxisH: 44, yLabelX: 25.3, title: false, xLabel: false },
  { series: botSeries, yTicks: botYTicks, yTickLabels: botYTickLabels, top: 541, height: 344, padTop: 40, xAxisH: 87, yLabelX: 42.5, title: false, xLabel: true },
];

function PanelChart({ p }: { p: Panel }) {
  const ref = useRef<HTMLCanvasElement | null>(null);
  useEffect(() => {
    if (!ref.current) return;
    const ys = p.series.map((d) => d[1]);
    const dmin = Math.min(...ys);
    const dmax = Math.max(...ys);
    const m = (dmax - dmin) * 0.05;

    const decor = {
      id: "decor",
      afterDraw(chart: any) {
        const ctx = chart.ctx as CanvasRenderingContext2D;
        const a = chart.chartArea;
        ctx.save();
        ctx.strokeStyle = "#000";
        ctx.lineWidth = 2;
        ctx.strokeRect(a.left, a.top, a.right - a.left, a.bottom - a.top);
        ctx.fillStyle = "#000";
        if (p.title) {
          ctx.font = `33px ${FONT}`;
          ctx.textAlign = "center";
          ctx.textBaseline = "alphabetic";
          ctx.fillText(TITLE, (a.left + a.right) / 2, 43);
        }
        if (p.xLabel) {
          ctx.font = `27px ${FONT}`;
          ctx.textAlign = "center";
          ctx.textBaseline = "alphabetic";
          ctx.fillText(X_LABEL, (a.left + a.right) / 2, 873 - p.top);
        }
        ctx.restore();
        ctx.save();
        ctx.beginPath();
        ctx.rect(13, 0, CANVAS_W, p.height);
        ctx.clip();
        ctx.fillStyle = "#000";
        ctx.font = `27px ${FONT}`;
        ctx.textAlign = "center";
        ctx.textBaseline = "alphabetic";
        ctx.translate(p.yLabelX, (a.top + a.bottom) / 2);
        ctx.rotate(-Math.PI / 2);
        ctx.fillText(Y_LABEL, 0, 0);
        ctx.restore();
      },
    };

    const tickFont = { family: FONT, size: 27, lineHeight: 1.2 };
    const chart = new Chart(ref.current, {
      type: "line",
      data: {
        datasets: [
          {
            data: p.series.map(([x, y]) => ({ x, y })),
            borderColor: LINE_COLOR,
            borderWidth: 4,
            pointRadius: 0,
            tension: 0,
            fill: false,
            borderJoinStyle: "round",
            borderCapStyle: "butt",
          },
        ],
      },
      options: {
        animation: false,
        responsive: false,
        devicePixelRatio: 1,
        events: [],
        layout: { padding: { top: p.padTop, left: 0, right: 0, bottom: 0 } },
        plugins: { legend: { display: false }, tooltip: { enabled: false }, title: { display: false } },
        scales: {
          x: {
            type: "linear",
            min: -50,
            max: 1050,
            afterBuildTicks: (s: any) => {
              s.ticks = xTicks.map((v) => ({ value: v }));
            },
            afterFit: (s: any) => {
              s.height = p.xAxisH;
            },
            border: { display: false },
            grid: { display: true, drawOnChartArea: false, drawTicks: true, tickLength: 9, tickWidth: 2, tickColor: "#000", color: "#000" },
            ticks: {
              color: "#000",
              font: tickFont,
              padding: 8,
              maxRotation: 0,
              autoSkip: false,
              callback: (_v: any, i: number) => xTickLabels[i],
            },
          },
          y: {
            type: "linear",
            min: dmin - m,
            max: dmax + m,
            afterBuildTicks: (s: any) => {
              s.ticks = p.yTicks.map((v) => ({ value: v }));
            },
            afterFit: (s: any) => {
              s.width = Y_AXIS_W;
            },
            border: { display: false },
            grid: { display: true, drawOnChartArea: false, drawTicks: true, tickLength: 9, tickWidth: 2, tickColor: "#000", color: "#000" },
            ticks: {
              color: "#000",
              font: tickFont,
              padding: 10,
              autoSkip: false,
              callback: (_v: any, i: number) => p.yTickLabels[i],
            },
          },
        },
      } as any,
      plugins: [decor],
    });
    return () => chart.destroy();
  }, [p]);

  return (
    <canvas
      ref={ref}
      width={CANVAS_W}
      height={p.height}
      style={{ position: "absolute", left: 0, top: p.top, width: CANVAS_W, height: p.height }}
    />
  );
}

export default function App() {
  return (
    <div
      style={{
        position: "fixed",
        left: 0,
        top: 0,
        width: 1166,
        height: 885,
        overflow: "hidden",
        background: "#fff",
      }}
    >
      {panels.map((p, i) => (
        <PanelChart key={i} p={p} />
      ))}
    </div>
  );
}
